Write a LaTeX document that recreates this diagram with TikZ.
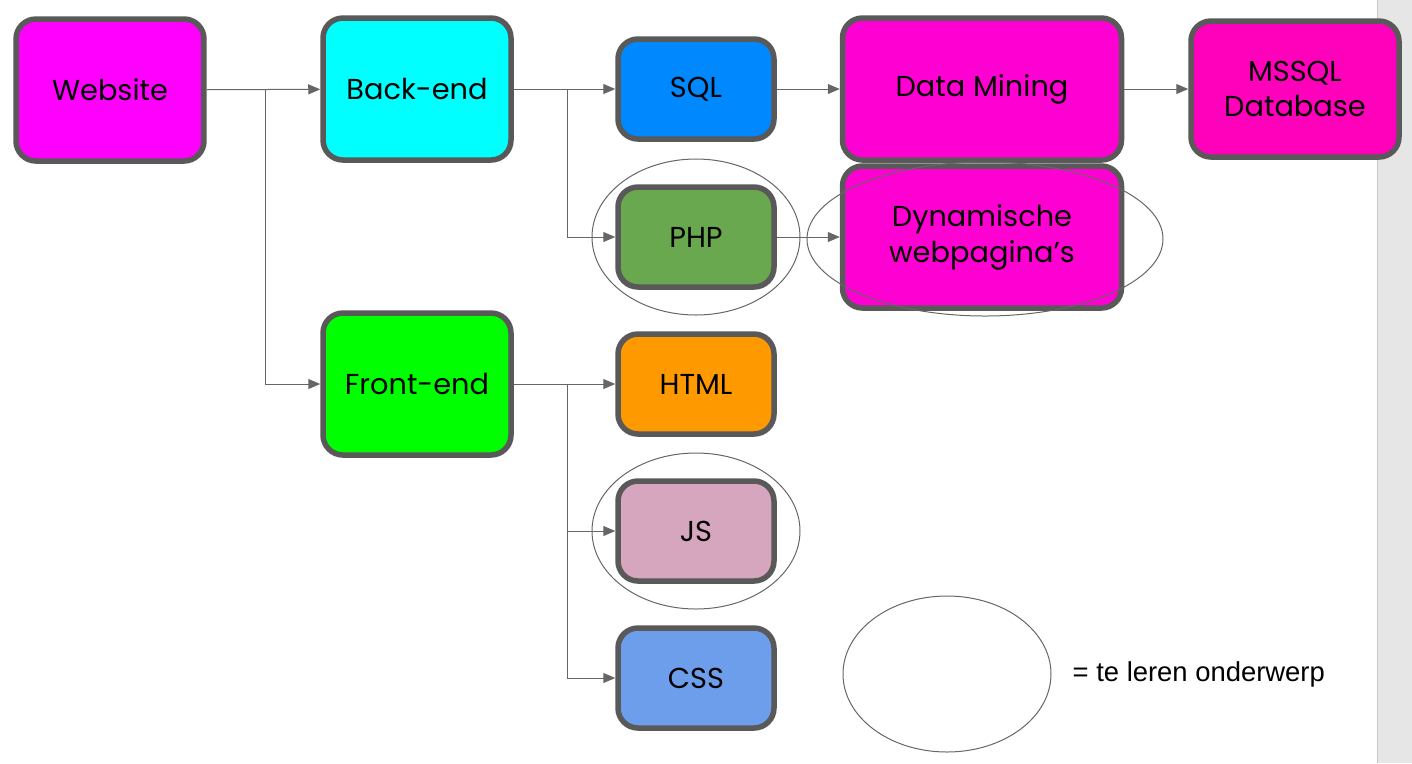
\documentclass[tikz,border=0pt]{standalone}
\usepackage{fontspec}
\setmainfont{Poppins}
\newfontfamily\legendafont{Liberation Sans}
\usetikzlibrary{arrows.meta,shapes.geometric}

\definecolor{randgrijs}{HTML}{595959}
\definecolor{lijngrijs}{HTML}{666666}
\definecolor{zijbalk}{HTML}{E6E6E6}
\definecolor{magenta1}{HTML}{FF00FF}
\definecolor{cyaan}{HTML}{00FFFF}
\definecolor{sqlblauw}{HTML}{0088FF}
\definecolor{roze}{HTML}{FF00D2}
\definecolor{rozedb}{HTML}{FF00BB}
\definecolor{phpgroen}{HTML}{6AA84F}
\definecolor{felgroen}{HTML}{00FF00}
\definecolor{oranje}{HTML}{FF9900}
\definecolor{oudroze}{HTML}{D5A6BD}
\definecolor{lichtblauw}{HTML}{6D9EEB}

\tikzset{
  blok/.style={draw=randgrijs, line width=0.55mm, rounded corners=2mm,
    align=center, inner sep=0pt, font=\fontsize{8.2}{10.2}\selectfont},
  klein/.style={blok, minimum width=15.6mm, minimum height=10mm},
  middel/.style={blok, minimum width=18.8mm, minimum height=14.2mm},
  groot/.style={blok, minimum width=27.9mm, minimum height=14.2mm},
  leerring/.style={draw=lijngrijs, line width=0.1mm, ellipse, inner sep=0pt,
    minimum width=20.8mm, minimum height=15.6mm},
  pijl/.style={draw=lijngrijs, line width=0.1mm, -{Triangle[length=1.2mm,width=1mm]}}
}

\begin{document}
\begin{tikzpicture}[x=0.1mm, y=-0.1mm]
  \useasboundingbox (0,0) rectangle (1412,763);
  % grijze balk rechts
  \fill[zijbalk] (1377,0) rectangle (1412,763);
  \draw[draw=black!22, line width=0.1mm] (1377,0) -- (1377,763);

  % blokken
  \node[middel, fill=magenta1] (website) at (110,90) {Website};
  \node[middel, fill=cyaan] (backend) at (417,89) {Back-end};
  \node[middel, fill=felgroen] (frontend) at (417,384) {Front-end};
  \node[klein, fill=sqlblauw] (sql) at (696,89) {SQL};
  \node[klein, fill=phpgroen] (php) at (696,237) {PHP};
  \node[klein, fill=oranje] (html) at (696,384) {HTML};
  \node[klein, fill=oudroze] (js) at (696,531) {JS};
  \node[klein, fill=lichtblauw] (css) at (696,678) {CSS};
  \node[groot, fill=roze] (mining) at (982,89) {Data Mining};
  \node[groot, fill=roze] (dynamisch) at (982,237) {Dynamische\\webpagina’s};
  \node[blok, fill=rozedb, minimum width=20.8mm, minimum height=13.6mm] (mssql) at (1295,89) {MSSQL\\Database};

  % splitsingen
  \coordinate (splitweb) at (265,90);
  \coordinate (splitback) at (567,89);
  \coordinate (splitfront) at (567,384);

  % verbindingen
  \draw[pijl] (website) -- (backend);
  \draw[pijl] (splitweb) |- (frontend);
  \draw[pijl] (backend) -- (sql);
  \draw[pijl] (splitback) |- (php);
  \draw[pijl] (frontend) -- (html);
  \draw[pijl] (splitfront) |- (js);
  \draw[pijl] (splitfront) |- (css);
  \draw[pijl] (sql) -- (mining);
  \draw[pijl] (php) -- (dynamisch);
  \draw[pijl] (mining) -- (mssql);

  % te leren onderwerpen
  \node[leerring] (ringphp) at (696,237) {};
  \node[leerring, minimum width=35.6mm, minimum height=15.4mm] (ringdyn) at (985,239) {};
  \node[leerring] (ringjs) at (696,531) {};

  % legenda
  \node[leerring] (ringlegenda) at (947,674) {};
  \node[anchor=west, inner sep=0pt, font=\legendafont\fontsize{7.8}{9}\selectfont] (legenda) at (1072,674) {= te leren onderwerp};
\end{tikzpicture}
\end{document}
